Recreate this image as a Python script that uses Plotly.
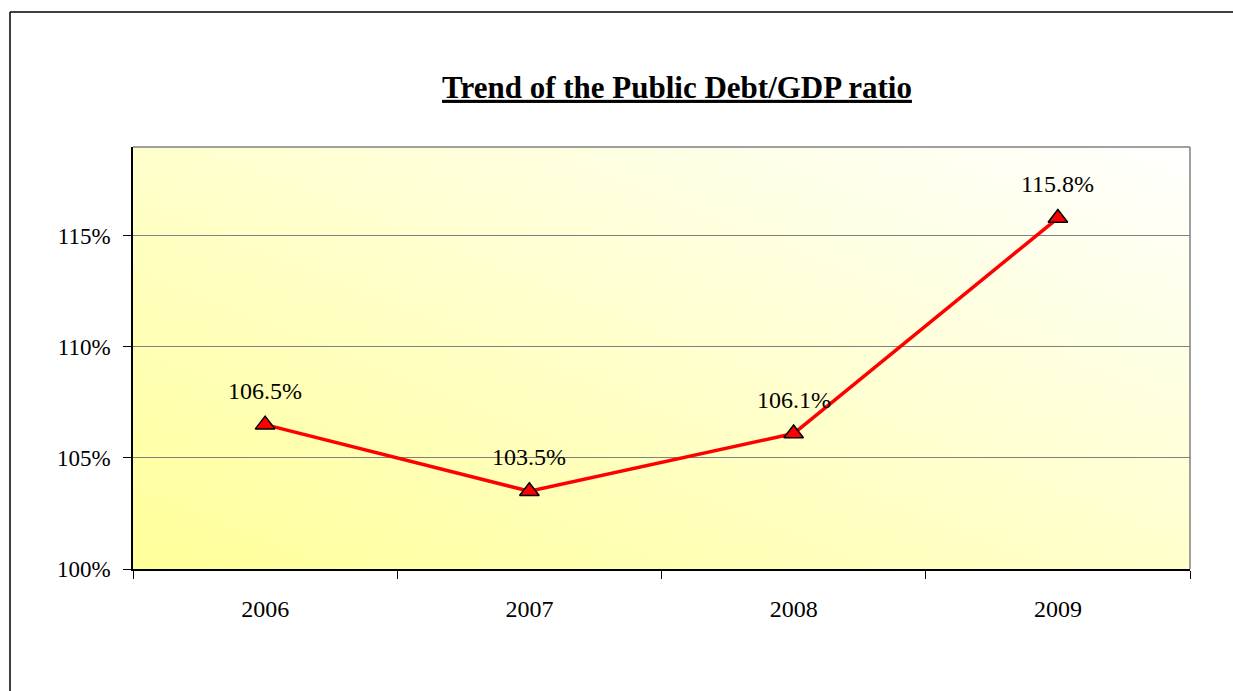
import base64
import plotly.graph_objects as go

years = ["2006", "2007", "2008", "2009"]
ratio = [106.5, 103.5, 106.1, 115.8]
labels = ["106.5%", "103.5%", "106.1%", "115.8%"]
y_ticks = [100, 105, 110, 115]
y_tick_text = ["100%", "105%", "110%", "115%"]

W, H = 1233, 691
L, R, T, B = 133, 1190, 147, 569
pw, ph = R - L, B - T

def px(x):
    return (x - L) / pw

def py(y):
    return (B - y) / ph

FONT = "Liberation Serif, Times New Roman, serif"

svg = ("<svg xmlns='http://www.w3.org/2000/svg' width='200' height='200' preserveAspectRatio='none'>"
       "<defs><linearGradient id='g' x1='0' y1='1' x2='1' y2='0'>"
       "<stop offset='0' stop-color='#FFFF99'/><stop offset='1' stop-color='#FFFFFF'/>"
       "</linearGradient></defs><rect width='200' height='200' fill='url(#g)'/></svg>")
src = "data:image/svg+xml;base64," + base64.b64encode(svg.encode()).decode()

fig = go.Figure()
fig.add_trace(go.Scatter(
    x=years, y=ratio, mode="lines+markers",
    line=dict(color="#FF0000", width=3.5),
    marker=dict(symbol="triangle-up", size=17, color="#FF0000",
                line=dict(color="#000000", width=1.5)),
    hoverinfo="skip", showlegend=False,
))

annotations = []
for i, (v, t) in enumerate(zip(ratio, labels)):
    annotations.append(dict(x=i, y=v, xref="x", yref="y", text=t, showarrow=False,
                            yshift=34, font=dict(family=FONT, size=24, color="#000000")))

images = [dict(source=src, xref="paper", yref="paper", x=0, y=1,
               sizex=1, sizey=1, sizing="stretch", layer="below",
               xanchor="left", yanchor="top")]

shapes = [
    dict(type="line", xref="paper", yref="paper", x0=0, x1=1, y0=1, y1=1,
         line=dict(color="#808080", width=1.5)),
    dict(type="line", xref="paper", yref="paper", x0=1, x1=1, y0=0, y1=1,
         line=dict(color="#808080", width=1.5)),
    dict(type="line", xref="paper", yref="paper", x0=px(10), x1=px(W + 5), y0=py(12), y1=py(12),
         line=dict(color="#000000", width=1.5)),
    dict(type="line", xref="paper", yref="paper", x0=px(10), x1=px(10), y0=py(12), y1=py(H + 5),
         line=dict(color="#000000", width=1.5)),
]

fig.update_layout(
    width=W, height=H,
    margin=dict(l=L, r=W - R, t=T, b=H - B),
    paper_bgcolor="#FFFFFF", plot_bgcolor="rgba(0,0,0,0)",
    font=dict(family=FONT, color="#000000"),
    title=dict(text="<b><u>Trend of the Public Debt/GDP ratio</u></b>",
               x=px(677), xanchor="center", y=1 - 87 / H, yanchor="middle",
               xref="paper", yref="container",
               font=dict(family=FONT, size=31, color="#000000")),
    shapes=shapes,
    images=images,
    annotations=annotations,
    xaxis=dict(type="category", range=[-0.5, 3.5], showgrid=False,
               showline=True, linecolor="#000000", linewidth=1.5,
               ticks="outside", tickson="boundaries", ticklen=8, tickcolor="#000000",
               tickfont=dict(family=FONT, size=24, color="#000000"),
               ticklabelstandoff=17, zeroline=False),
    yaxis=dict(range=[100, 119], tickvals=y_ticks, ticktext=y_tick_text,
               showgrid=True, gridcolor="#808080", gridwidth=1,
               showline=True, linecolor="#000000", linewidth=1.5,
               ticks="outside", ticklen=8, tickcolor="#000000",
               tickfont=dict(family=FONT, size=23, color="#000000"),
               ticklabelstandoff=8, zeroline=False),
)

fig.write_html("out.html", config={"displayModeBar": False},
               post_script="document.body.style.margin='0';")
